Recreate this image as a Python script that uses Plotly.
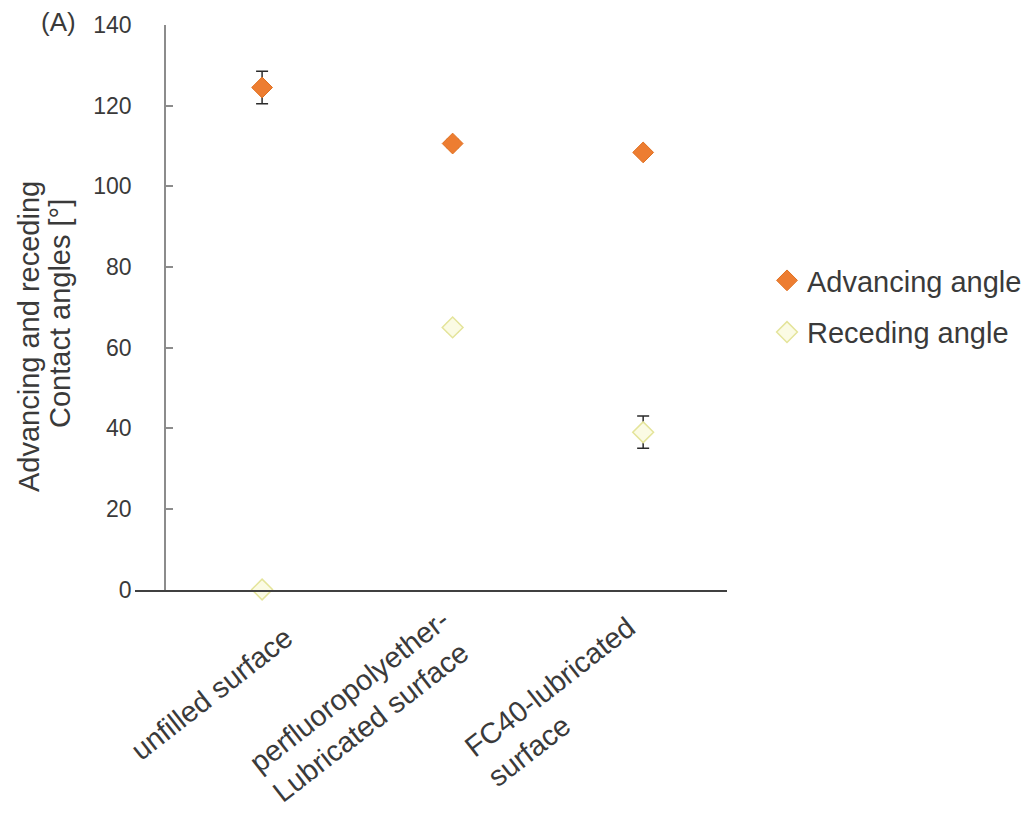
import plotly.graph_objects as go

# Surface conditions along the x axis
categories = [
    "unfilled surface",
    "perfluoropolyether-<br>Lubricated surface",
    "FC40-lubricated<br>surface",
]

# Contact angles in degrees with standard deviations
advancing = [124.5, 110.6, 108.4]
advancing_err = [4.0, 1.0, 0.8]
receding = [0.0, 65.0, 39.0]
receding_err = [0.0, 1.0, 4.0]

y_ticks = [0, 20, 40, 60, 80, 100, 120, 140]

# Pixel offsets of each rotated category label's centre from its tick
label_offsets = [(-51, 104), (-92, 116), (-82, 112)]

W, H = 1035, 813
FONT = "Liberation Sans, Arial, sans-serif"
TEXT = "#3a3a3a"


def px(x):
    return x / W


def py(y):
    return 1 - y / H


fig = go.Figure()

fig.add_trace(go.Scatter(
    x=categories, y=advancing, mode="markers", name="Advancing angle",
    legendgroup="adv",
    marker=dict(symbol="diamond", size=16, color="#ED7D31",
                line=dict(color="#E07020", width=1)),
    error_y=dict(type="data", array=advancing_err, visible=True,
                 color="#2b2b2b", thickness=1.5, width=6),
    cliponaxis=False,
))

fig.add_trace(go.Scatter(
    x=categories, y=receding, mode="markers", name="Receding angle",
    legendgroup="rec",
    marker=dict(symbol="diamond", size=16, color="#FBFBE4",
                line=dict(color="#E4E49A", width=1.5)),
    error_y=dict(type="data", array=receding_err, visible=True,
                 color="#2b2b2b", thickness=1.5, width=6),
    cliponaxis=False,
))

# Rotated, left-aligned category labels below the axis
annotations = []
for cat, (dx, dy) in zip(categories, label_offsets):
    annotations.append(dict(
        text=cat, x=cat, y=0, xref="x", yref="y",
        xanchor="center", yanchor="middle", align="left",
        xshift=dx, yshift=-dy, textangle=-38, showarrow=False,
        font=dict(family=FONT, size=29, color=TEXT),
    ))

annotations += [
    dict(text="(A)", x=px(39), y=py(22), xref="paper", yref="paper",
         xanchor="left", yanchor="middle", showarrow=False,
         font=dict(family=FONT, size=26, color=TEXT)),
    dict(text="Advancing and receding", x=px(29), y=py(337),
         xref="paper", yref="paper", xanchor="center", yanchor="middle",
         textangle=-90, showarrow=False,
         font=dict(family=FONT, size=29, color=TEXT)),
    dict(text="Contact angles [°]", x=px(60), y=py(314),
         xref="paper", yref="paper", xanchor="center", yanchor="middle",
         textangle=-90, showarrow=False,
         font=dict(family=FONT, size=29, color=TEXT)),
]

fig.update_layout(
    width=W, height=H, autosize=False,
    margin=dict(l=0, r=0, t=0, b=0, autoexpand=False),
    paper_bgcolor="white", plot_bgcolor="white",
    font=dict(family=FONT, color=TEXT, size=29),
    showlegend=True,
    legend=dict(
        x=px(767), y=py(255), xanchor="left", yanchor="top",
        font=dict(family=FONT, size=29, color=TEXT),
        tracegroupgap=11, bgcolor="rgba(0,0,0,0)",
    ),
    xaxis=dict(
        domain=[px(135), px(727)],
        type="category",
        range=[-0.667, 2.44],
        showline=True, linecolor="#404040", linewidth=2,
        showgrid=False, zeroline=False, ticks="",
        showticklabels=False, automargin=False,
        anchor="y",
    ),
    yaxis=dict(
        domain=[py(589.5), py(25)],
        range=[0, 140],
        tickvals=y_ticks,
        showline=True, linecolor="#8c8c8c", linewidth=1.5,
        ticks="inside", ticklen=7, tickcolor="#8c8c8c", tickwidth=1.5,
        showgrid=False, zeroline=False,
        tickfont=dict(family=FONT, size=23, color=TEXT),
        ticklabelstandoff=28, automargin=False,
        anchor="free", position=px(165),
    ),
    annotations=annotations,
)

fig.write_html("out.html")
